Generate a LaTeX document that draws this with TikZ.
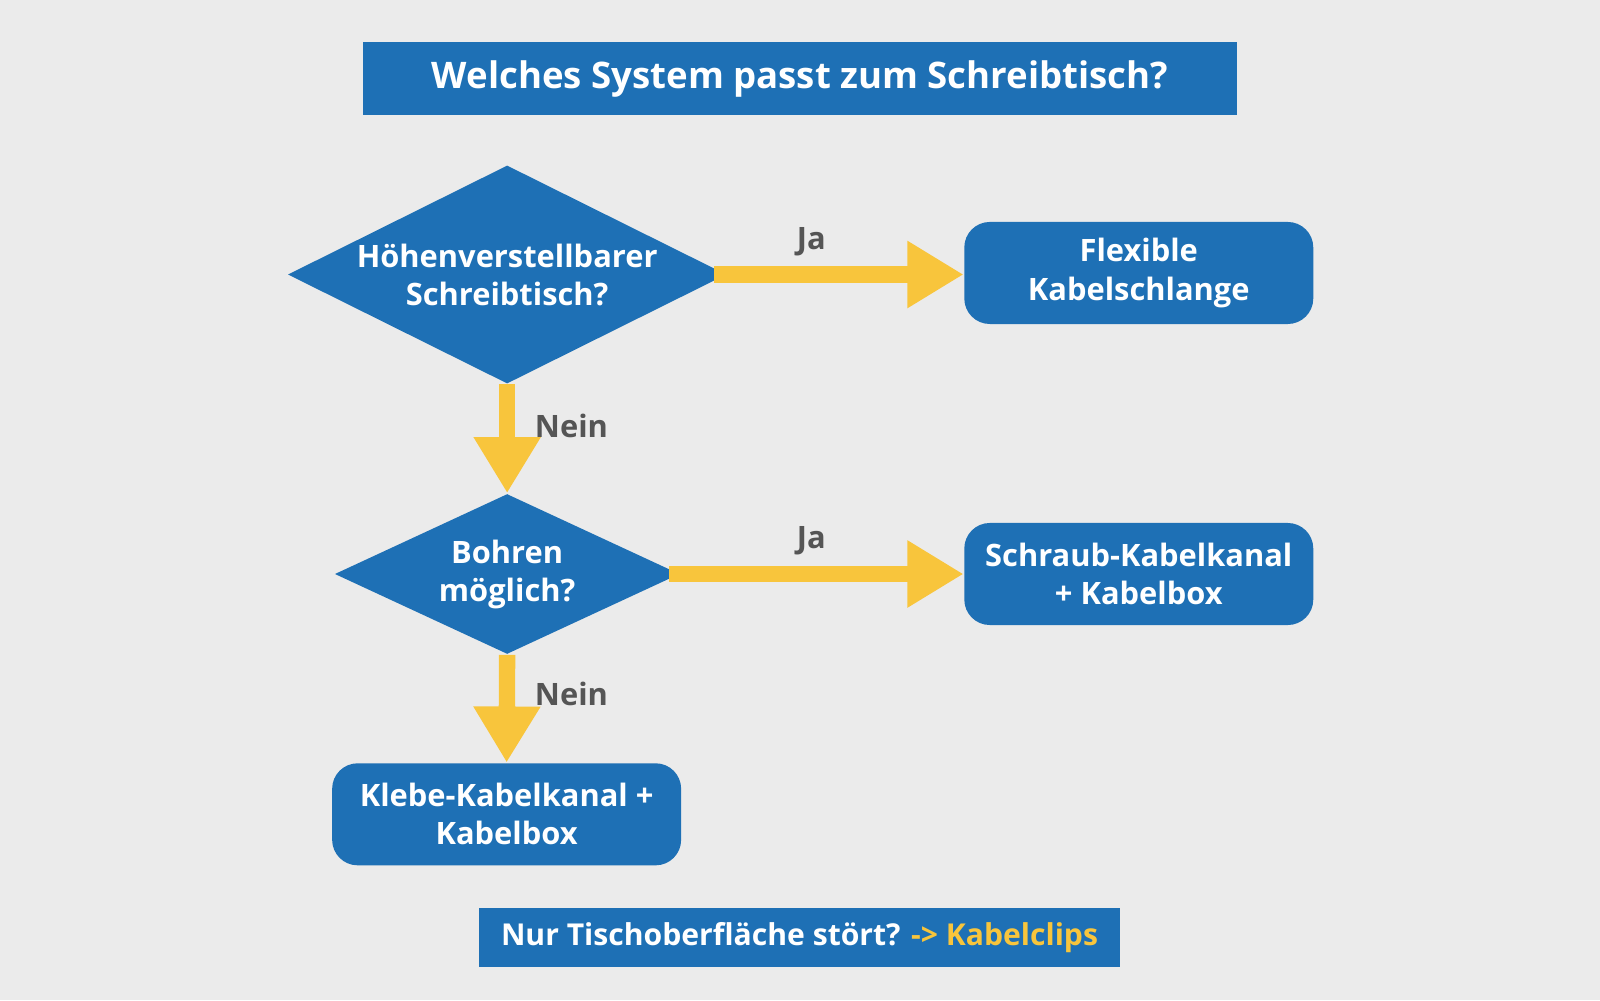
\documentclass[tikz,border=0pt]{standalone}
\usepackage{fontspec}
\setmainfont{Open Sans}
\usetikzlibrary{shapes.geometric,arrows.meta}
\definecolor{bg}{HTML}{EBEBEB}
\definecolor{bl}{HTML}{1E70B5}
\definecolor{ye}{HTML}{F8C53C}
\definecolor{gr}{HTML}{555555}
\begin{document}
\begin{tikzpicture}[
  txt/.style={text=white,font=\bfseries\fontsize{8.6pt}{10.6pt}\selectfont,align=center},
  box/.style={txt,fill=bl,rounded corners=0.25cm,minimum width=3.42cm,minimum height=1cm,inner sep=0},
  dia/.style={txt,fill=bl,diamond,inner sep=0,aspect=2},
  arr/.style={ye,line width=0.16cm,-{Triangle[width=0.62cm 0 0,length=0.55cm 0 0]}},
  lab/.style={text=gr,font=\bfseries\fontsize{8.6pt}{10pt}\selectfont}]
\fill[bg] (0,0) rectangle (15.68,-9.8);
\useasboundingbox (0,0) rectangle (15.68,-9.8);
\node[fill=bl,text=white,font=\bfseries\fontsize{10.2pt}{12pt}\selectfont,minimum width=8.56cm,minimum height=0.72cm,inner sep=0] (t) at (7.84,-0.77) {Welches System passt zum Schreibtisch?};
\node[dia,minimum width=4.3cm,minimum height=2.14cm] (d1) at (4.97,-2.69) {Höhenverstellbarer\\Schreibtisch?};
\node[box] (b1) at (11.16,-2.675) {Flexible\\Kabelschlange};
\node[dia,minimum width=3.38cm,minimum height=1.57cm] (d2) at (4.97,-5.625) {Bohren\\möglich?};
\node[box] (b2) at (11.16,-5.625) {Schraub-Kabelkanal\\+ Kabelbox};
\node[box] (b3) at (4.965,-7.98) {Klebe-Kabelkanal +\\Kabelbox};
\node[fill=bl,text=white,font=\bfseries\fontsize{8.4pt}{10pt}\selectfont,minimum width=6.29cm,minimum height=0.58cm,inner sep=0] (n) at (7.835,-9.19) {Nur Tischoberfläche stört? \textcolor{ye}{-> Kabelclips}};
\draw[arr] ([xshift=-0.13cm]d1.east) -- (b1.west |- d1.east);
\draw[arr] (d1.south) -- (d2.north);
\draw[arr] ([xshift=-0.11cm]d2.east) -- (b2.west |- d2.east);
\draw[arr] (d2.south) -- (b3.north);
\node[lab] (j1) at (7.95,-2.37) {Ja};
\node[lab] (n1) at (5.6,-4.17) {Nein};
\node[lab] (j2) at (7.95,-5.30) {Ja};
\node[lab] (n2) at (5.6,-6.80) {Nein};
\end{tikzpicture}
\end{document}
